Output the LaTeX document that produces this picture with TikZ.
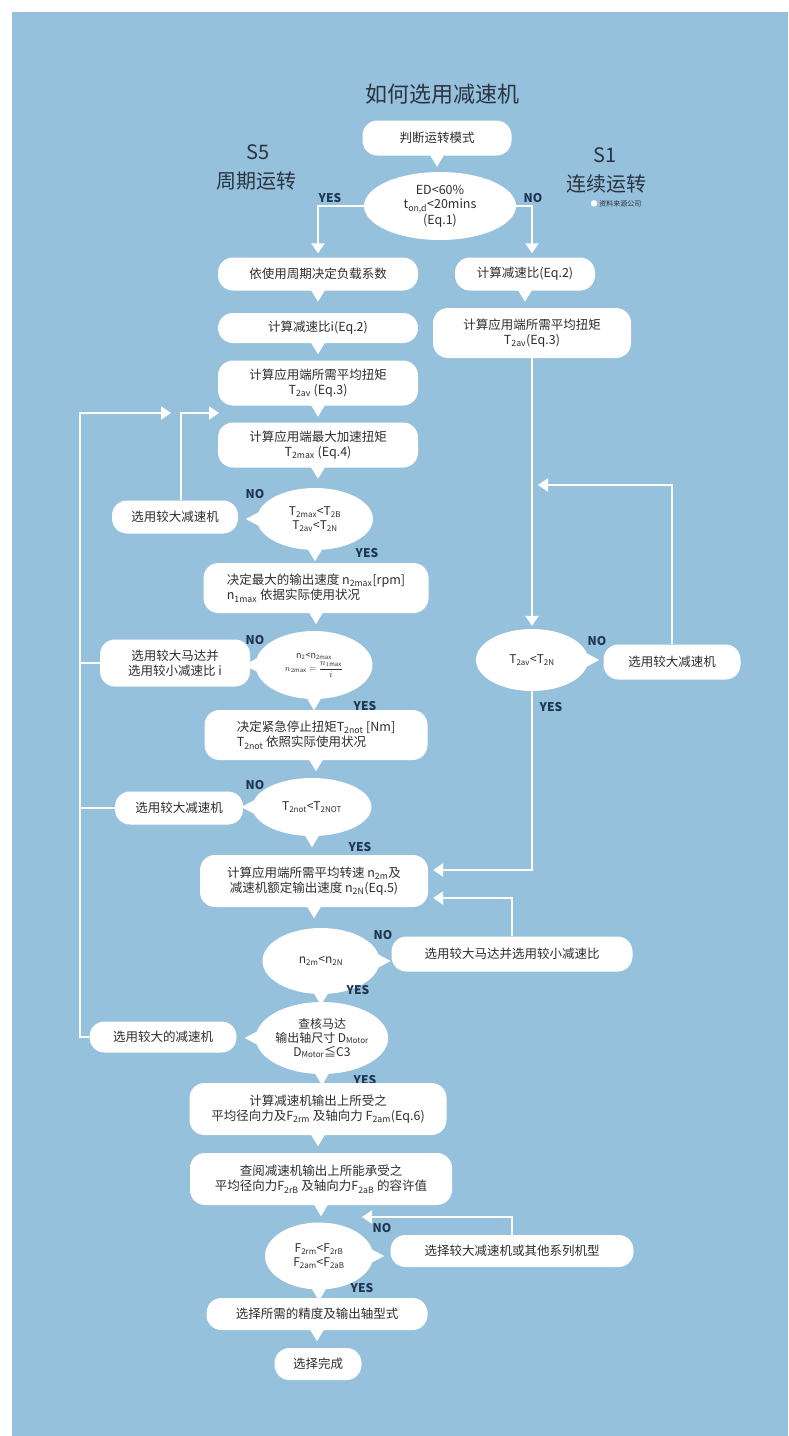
\documentclass[tikz,border=0pt]{standalone}
\usepackage{fontspec}
\setmainfont{Noto Sans CJK SC}
\usetikzlibrary{arrows.meta,calc,shapes.geometric}
\definecolor{bg}{HTML}{96C1DD}
\definecolor{txt}{HTML}{2E2E2E}
\definecolor{lab}{HTML}{1E3550}
\definecolor{ttl}{HTML}{2A3440}
\newcommand{\sbs}[1]{\textsubscript{#1}}
\newcommand{\ptrS}[1]{\fill[white] ($(#1.south)+(-9,-4)$) -- ($(#1.south)+(0,11)$) -- ($(#1.south)+(9,-4)$) -- cycle;}
\newcommand{\ptrW}[1]{\fill[white] ($(#1.west)+(6,-9)$) -- ($(#1.west)+(-11,0)$) -- ($(#1.west)+(6,9)$) -- cycle;}
\newcommand{\ptrE}[1]{\fill[white] ($(#1.east)+(-6,-9)$) -- ($(#1.east)+(11,0)$) -- ($(#1.east)+(-6,9)$) -- cycle;}
\begin{document}
\begin{tikzpicture}[x=1pt,y=-1pt,
  box/.style 2 args={fill=white, rounded corners=15pt, minimum width=#1, minimum height=#2,
     align=center, inner sep=0pt, text=txt, font=\fontsize{12.5}{15.5}\selectfont},
  dec/.style 2 args={ellipse, fill=white, minimum width=#1, minimum height=#2,
     align=center, inner sep=0pt, text=txt, font=\fontsize{12}{14}\selectfont},
  lbl/.style={text=lab, font=\fontsize{12}{14}\selectfont\bfseries},
  head/.style={text=ttl, font=\fontsize{20}{24}\selectfont},
  conn/.style={draw=white, line width=2.2pt, -{Triangle[length=10pt,width=13pt]}},
  wline/.style={draw=white, line width=2.2pt}
]
\useasboundingbox (0,0) rectangle (788,1436);
\fill[white] (0,0) rectangle (788,1436);
\fill[bg] (12,12) rectangle (788,1436);

% titles
\node[text=ttl, font=\fontsize{22}{26}\selectfont] (title) at (442,94) {如何选用减速机};
\node[head] (s5a) at (258,152) {S5};
\node[head] (s5b) at (256,181) {周期运转};
\node[head] (s1a) at (605,155) {S1};
\node[head] (s1b) at (606,184) {连续运转};
\node[text=txt, font=\fontsize{7}{8}\selectfont] (note) at (616,204) {\textcolor{white}{●} 资料来源公司};

% main flow
\node[box={149}{35}] (start) at (437,138) {判断运转模式};
\node[dec={152}{68}, font=\fontsize{12.5}{14.5}\selectfont] (d1) at (440,206) {ED<60\%\\t\sbs{on,d}<20mins\\(Eq.1)};
\node[lbl] (yes1) at (330,198) {YES};
\node[lbl] (no1) at (533,198) {NO};

\node[box={200}{33}] (b1) at (318,274) {依使用周期决定负载系数};
\node[box={200}{30}] (b2) at (318,328) {计算减速比i(Eq.2)};
\node[box={200}{45}] (b3) at (318,383) {计算应用端所需平均扭矩\\T\sbs{2av} (Eq.3)};
\node[box={200}{45}] (b4) at (318,445) {计算应用端最大加速扭矩\\T\sbs{2max} (Eq.4)};

\node[dec={116}{62}] (d2) at (315,519) {T\sbs{2max}<T\sbs{2B}\\T\sbs{2av}<T\sbs{2N}};
\node[box={126}{33}] (bx1) at (175,517) {选用较大减速机};
\node[lbl] (no2) at (255,494) {NO};
\node[lbl] (yes2) at (367,553) {YES};

\node[box={225}{50}, align=left] (b5) at (316,588) {决定最大的输出速度 n\sbs{2max}[rpm]\\n\sbs{1max} 依据实际使用状况};
\node[dec={117}{68}, font=\fontsize{9}{11}\selectfont] (d3) at (314,665) {n\sbs{2}<n\sbs{2max}\\[1pt] $\displaystyle n_{2\mathrm{max}}=\frac{n_{1\mathrm{max}}}{i}$};
\node[box={150}{47}] (bx2) at (175,663) {选用较大马达并\\选用较小减速比 i};
\node[lbl] (no3) at (255,640) {NO};
\node[lbl] (yes3) at (365,706) {YES};

\node[box={223}{50}, align=left] (b6) at (316,735) {决定紧急停止扭矩T\sbs{2not} [Nm]\\T\sbs{2not} 依照实际使用状况};
\node[dec={119}{58}] (d4) at (312,807) {T\sbs{2not}<T\sbs{2NOT}};
\node[box={128}{33}] (bx3) at (179,808) {选用较大减速机};
\node[lbl] (no4) at (255,785) {NO};
\node[lbl] (yes4) at (360,847) {YES};

\node[box={228}{52}] (b7) at (314,881) {计算应用端所需平均转速 n\sbs{2m}及\\减速机额定输出速度 n\sbs{2N}(Eq.5)};
\node[dec={117}{66}] (d5) at (321,961) {n\sbs{2m}<n\sbs{2N}};
\node[box={241}{35}] (bx4) at (512,954) {选用较大马达并选用较小减速比};
\node[lbl] (no5) at (383,935) {NO};
\node[lbl] (yes5) at (358,990) {YES};

\node[dec={120}{72}] (d6) at (322,1038) {查核马达\\输出轴尺寸 D\sbs{Motor}\\D\sbs{Motor}≦C3};
\node[box={147}{31}] (bx5) at (163,1037) {选用较大的减速机};
\node[lbl] (yes6) at (365,1080) {YES};

\node[box={257}{52}] (b8) at (318,1109) {计算减速机输出上所受之\\平均径向力及F\sbs{2rm} 及轴向力 F\sbs{2am}(Eq.6)};
\node[box={262}{52}] (b9) at (321,1179) {查阅减速机输出上所能承受之\\平均径向力F\sbs{2rB} 及轴向力F\sbs{2aB} 的容许值};
\node[dec={108}{67}] (d7) at (319,1256) {F\sbs{2rm}<F\sbs{2rB}\\F\sbs{2am}<F\sbs{2aB}};
\node[box={243}{32}] (bx6) at (512,1251) {选择较大减速机或其他系列机型};
\node[lbl] (no7) at (382,1228) {NO};
\node[lbl] (yes7) at (362,1288) {YES};
\node[box={221}{32}] (b10) at (317,1314) {选择所需的精度及输出轴型式};
\node[box={87}{32}] (b11) at (318,1364) {选择完成};

% right column
\node[box={140}{33}] (r1) at (525,274) {计算减速比(Eq.2)};
\node[box={198}{50}] (r2) at (532,333) {计算应用端所需平均扭矩\\T\sbs{2av}(Eq.3)};
\node[dec={112}{62}] (d8) at (532,660) {T\sbs{2av}<T\sbs{2N}};
\node[box={137}{35}] (bx7) at (672,662) {选用较大减速机};
\node[lbl] (no8) at (597,641) {NO};
\node[lbl] (yes8) at (551,707) {YES};

% pointers
\ptrS{start}
\ptrS{b1} \ptrS{b2} \ptrS{b3} \ptrS{b4}
\ptrW{d2} \ptrS{d2}
\ptrS{b5} \ptrW{d3} \ptrS{d3}
\ptrS{b6} \ptrW{d4} \ptrS{d4}
\ptrS{b7} \ptrE{d5} \ptrS{d5}
\ptrW{d6} \ptrS{d6}
\ptrS{b8} \ptrS{b9} \ptrE{d7} \ptrS{d7} \ptrS{b10}
\ptrS{r1} \ptrE{d8}

% free ends
\coordinate (vl) at (80,413);
\coordinate (j0) at (171,413);
\coordinate (j1) at (219,413);
\coordinate (j2) at (538,485);
\coordinate (j3) at (362,1217);

% connectors
\draw[conn] (d1.west) -| ($(b1.north)+(0,-4)$);
\draw[conn] (d1.east) -| ($(r1.north)+(7,-4)$);
\draw[conn] ($(bx1.north)+(6,0)$) |- (j1);
\draw[conn] (bx5.west) -| (vl) -- (j0);
\draw[wline] (bx2.west) -- (bx2.west -| vl);
\draw[wline] (bx3.west) -- (bx3.west -| vl);
\draw[conn] (bx4.north) |- ($(b7.east)+(5,17)$);
\draw[conn] (d8.south) |- ($(b7.east)+(5,-11)$);
\draw[conn] (r2.south) -- ($(d8.north)+(0,-3)$);
\draw[conn] (bx7.north) |- (j2);
\draw[conn] (bx6.north) |- (j3);
\end{tikzpicture}
\end{document}
